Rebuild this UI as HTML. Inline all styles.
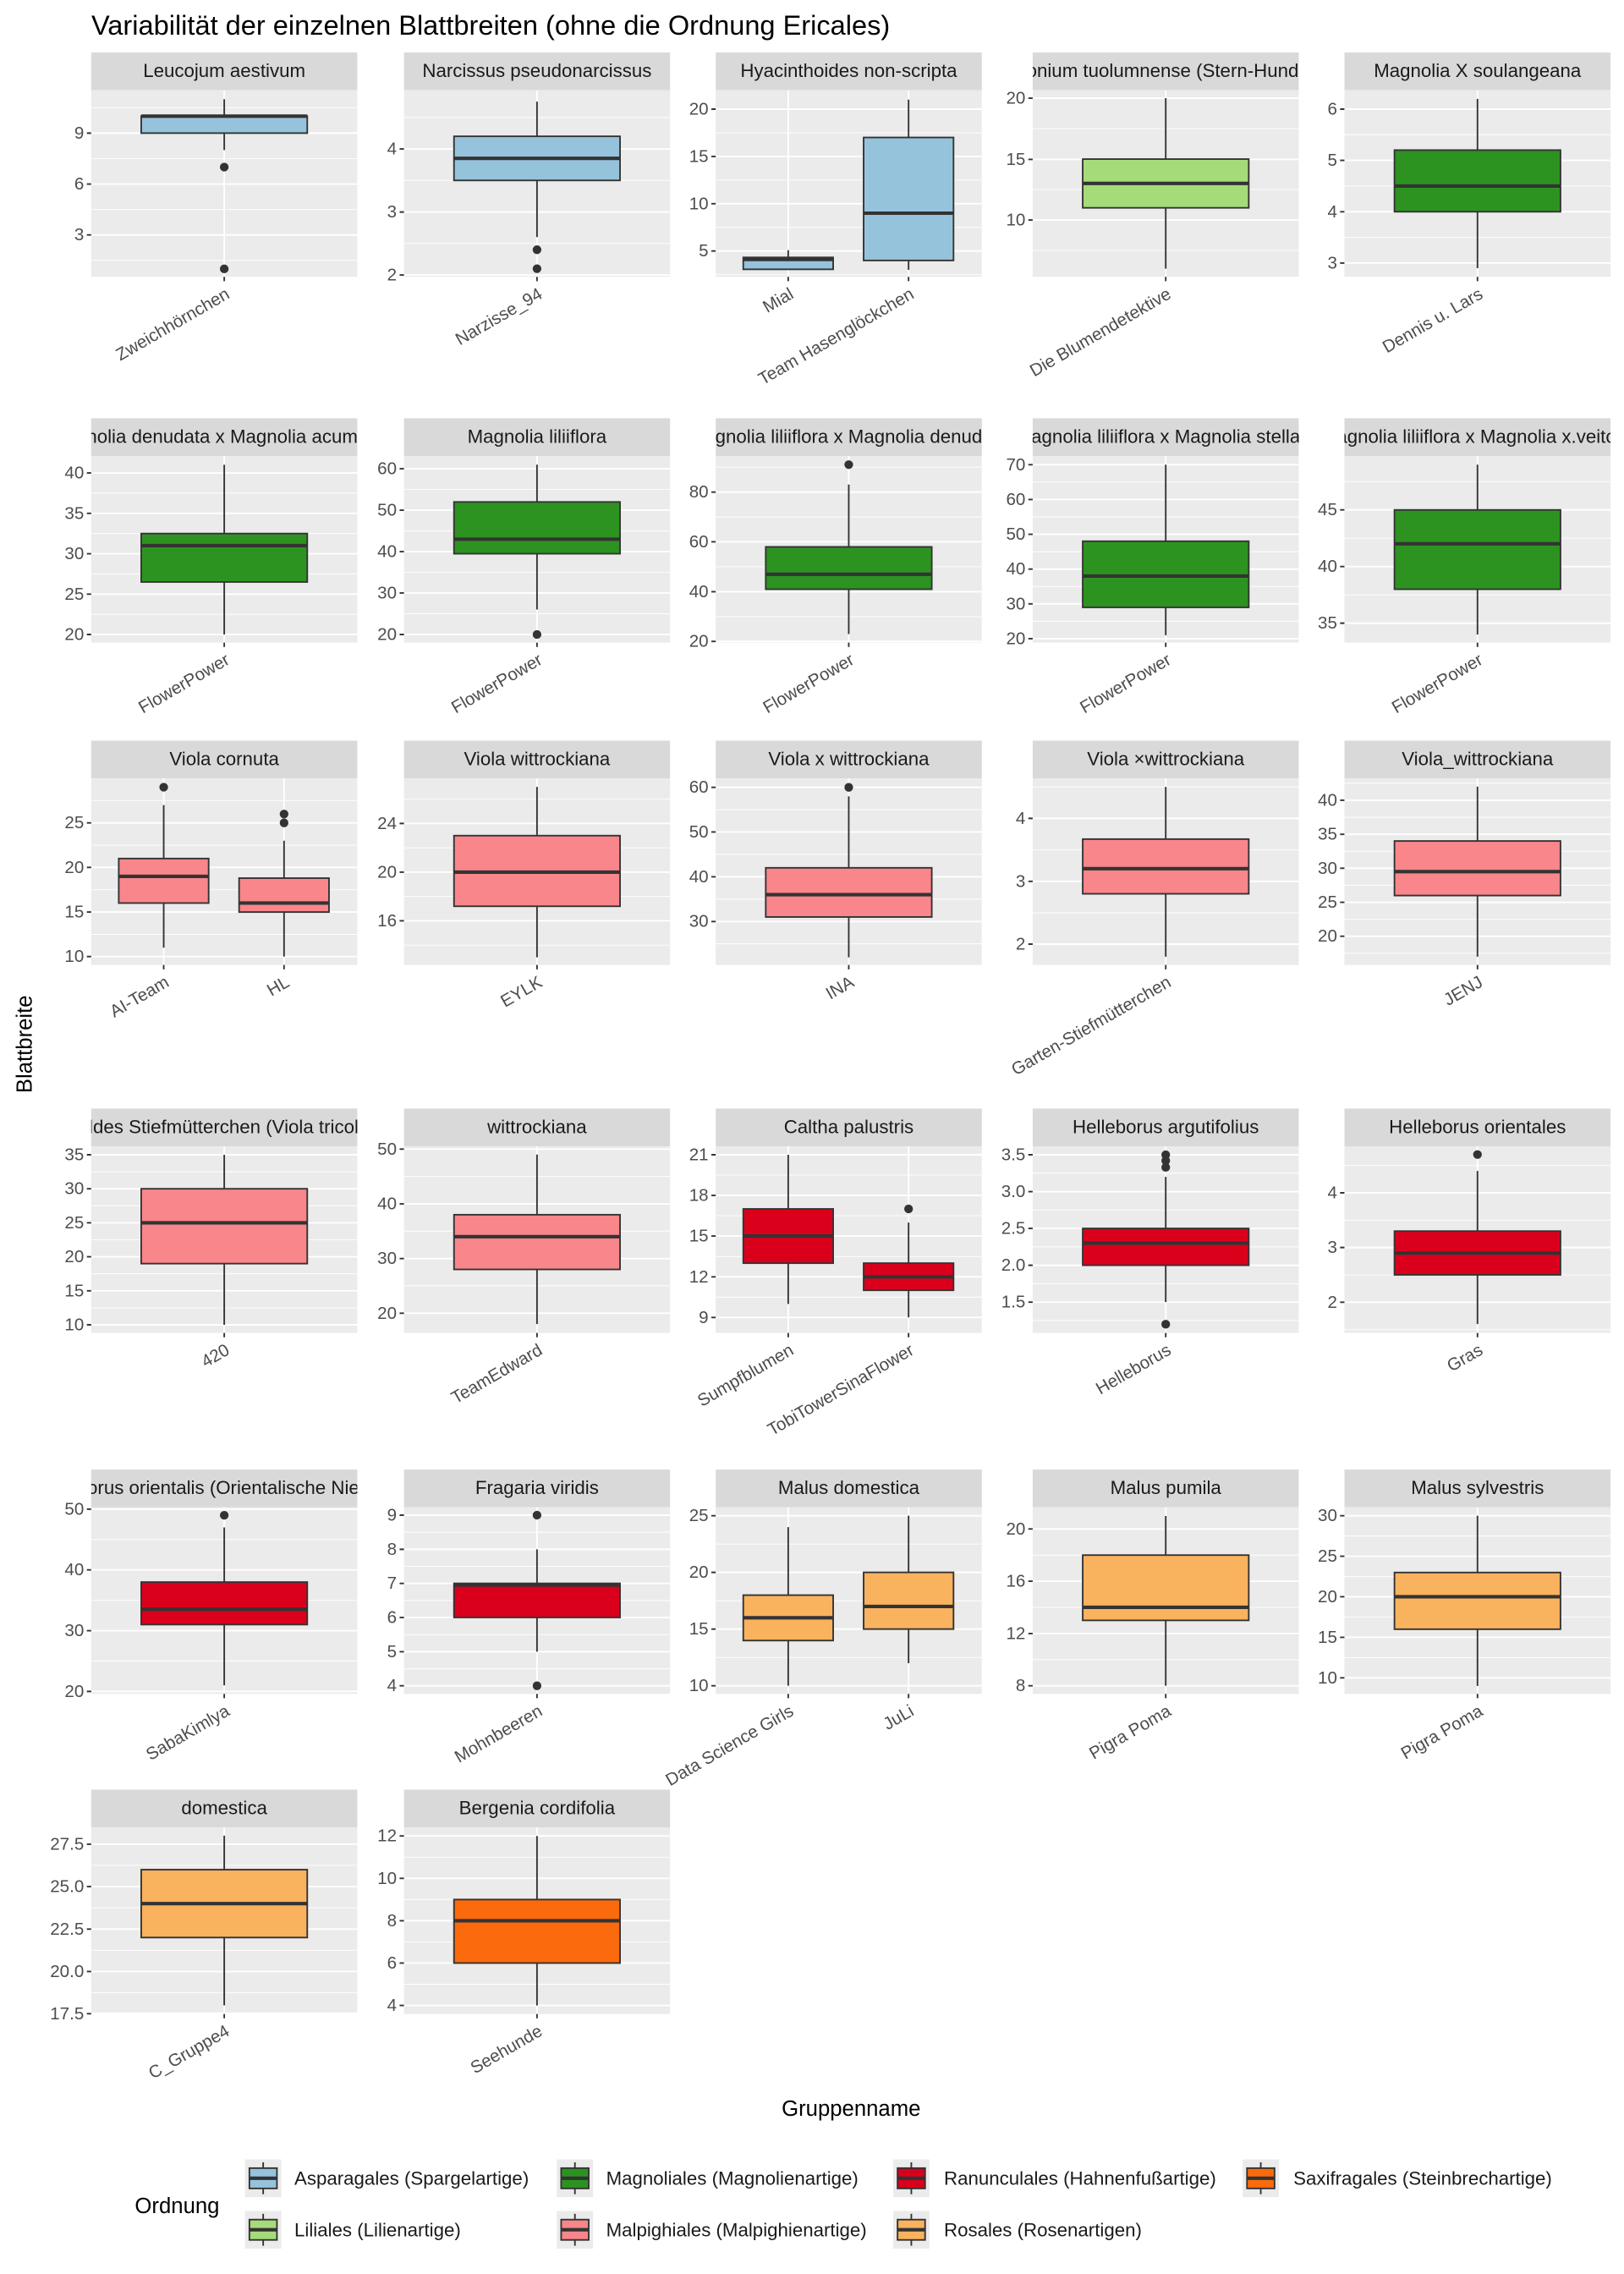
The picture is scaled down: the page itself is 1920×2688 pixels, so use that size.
<!DOCTYPE html>
<html><head><meta charset="utf-8">
<style>
html,body{margin:0;padding:0;background:#fff;}
svg{display:block;font-family:"Liberation Sans",Arial,sans-serif;}
.bg{fill:#EBEBEB}
.st{fill:#D9D9D9}
.mn{stroke:#fff;stroke-width:0.55;fill:none}
.mj{stroke:#fff;stroke-width:1.1;fill:none}
.tk{stroke:#333;stroke-width:1.1;fill:none}
.yl{font-size:12px;fill:#4D4D4D;text-anchor:end;dominant-baseline:central}
.sl{font-size:13px;fill:#1A1A1A;text-anchor:middle}
.xl{font-size:12px;fill:#4D4D4D;text-anchor:end}
.wh{stroke:#333;stroke-width:1.1}
.bx{stroke:#333;stroke-width:1.1}
.md{stroke:#333;stroke-width:2.4}
.ol{fill:#333}
.A{fill:#96C3DC}.L{fill:#A6DB7A}.M{fill:#2D9320}.P{fill:#F8868A}.R{fill:#DA001C}.O{fill:#F9B25E}.S{fill:#FB6A0C}
</style></head><body>
<svg width="1920" height="2688" viewBox="0 0 1120 1568" xmlns="http://www.w3.org/2000/svg">
<defs><clipPath id="sc"><rect x="0" y="-26" width="183.5" height="26"/></clipPath></defs>
<rect width="1120" height="1568" fill="#fff"/>
<text x="63" y="24" font-size="19" fill="#000">Variabilität der einzelnen Blattbreiten (ohne die Ordnung Ericales)</text>

<g transform="translate(62.9,62.2)">
<rect class="st" y="-26" width="183.5" height="26"/><text class="sl" x="91.75" y="-9" clip-path="url(#sc)">Leucojum aestivum</text>
<rect class="bg" width="183.5" height="128.7"/>
<path class="mn" d="M0 12.05H183.5M0 47.15H183.5M0 82.25H183.5M0 117.35H183.5"/>
<path class="mj" d="M0 29.6H183.5M0 64.7H183.5M0 99.8H183.5M91.75 0V128.7"/>
<path class="tk" d="M-3 29.6H0M-3 64.7H0M-3 99.8H0M91.75 128.7v3"/>
<text class="yl" x="-5" y="29.6">9</text><text class="yl" x="-5" y="64.7">6</text><text class="yl" x="-5" y="99.8">3</text>
<line class="wh" x1="91.75" x2="91.75" y1="6.2" y2="41.3"/>
<rect class="bx A" x="34.5" y="17.9" width="114.5" height="11.7"/>
<line class="md" x1="34.5" x2="149" y1="17.9" y2="17.9"/>
<circle class="ol" cx="91.75" cy="53" r="3"/><circle class="ol" cx="91.75" cy="123.2" r="3"/>
<text class="xl" transform="translate(91.75,135) rotate(-30)" dy="0.75em">Zweichhörnchen</text>
</g>

<g transform="translate(278.6,62.2)">
<rect class="st" y="-26" width="183.5" height="26"/><text class="sl" x="91.75" y="-9" clip-path="url(#sc)">Narcissus pseudonarcissus</text>
<rect class="bg" width="183.5" height="128.7"/>
<path class="mn" d="M0 18.8H183.5M0 62.2H183.5M0 105.7H183.5"/>
<path class="mj" d="M0 40.5H183.5M0 84H183.5M0 127.4H183.5M91.75 0V128.7"/>
<path class="tk" d="M-3 40.5H0M-3 84H0M-3 127.4H0M91.75 128.7v3"/>
<text class="yl" x="-5" y="40.5">4</text><text class="yl" x="-5" y="84">3</text><text class="yl" x="-5" y="127.4">2</text>
<line class="wh" x1="91.75" x2="91.75" y1="7.9" y2="101.3"/>
<rect class="bx A" x="34.5" y="31.8" width="114.5" height="30.4"/>
<line class="md" x1="34.5" x2="149" y1="47" y2="47"/>
<circle class="ol" cx="91.75" cy="110" r="3"/><circle class="ol" cx="91.75" cy="123.1" r="3"/>
<text class="xl" transform="translate(91.75,135) rotate(-30)" dy="0.75em">Narzisse_94</text>
</g>

<g transform="translate(493.6,62.2)">
<rect class="st" y="-26" width="183.5" height="26"/><text class="sl" x="91.75" y="-9" clip-path="url(#sc)">Hyacinthoides non-scripta</text>
<rect class="bg" width="183.5" height="128.7"/>
<path class="mn" d="M0 29.4H183.5M0 62H183.5M0 94.6H183.5M0 127.2H183.5"/>
<path class="mj" d="M0 13.05H183.5M0 45.7H183.5M0 78.3H183.5M0 110.9H183.5M50 0V128.7M133 0V128.7"/>
<path class="tk" d="M-3 13.05H0M-3 45.7H0M-3 78.3H0M-3 110.9H0M50 128.7v3M133 128.7v3"/>
<text class="yl" x="-5" y="13.05">20</text><text class="yl" x="-5" y="45.7">15</text><text class="yl" x="-5" y="78.3">10</text><text class="yl" x="-5" y="110.9">5</text>
<line class="wh" x1="50" x2="50" y1="110.3" y2="123.5"/>
<rect class="bx A" x="19" y="115.3" width="62" height="8.2"/>
<line class="md" x1="19" x2="81" y1="116.7" y2="116.7"/>
<line class="wh" x1="133" x2="133" y1="6.5" y2="123.9"/>
<rect class="bx A" x="102" y="32.6" width="62" height="84.8"/>
<line class="md" x1="102" x2="164" y1="84.8" y2="84.8"/>
<text class="xl" transform="translate(50,135) rotate(-30)" dy="0.75em">Mial</text>
<text class="xl" transform="translate(133,135) rotate(-30)" dy="0.75em">Team Hasenglöckchen</text>
</g>

<g transform="translate(712.2,62.2)">
<rect class="st" y="-26" width="183.5" height="26"/><text class="sl" x="91.75" y="-9" clip-path="url(#sc)">Erythronium tuolumnense (Stern-Hundszahn)</text>
<rect class="bg" width="183.5" height="128.7"/>
<path class="mn" d="M0 26.5H183.5M0 68.5H183.5M0 110.5H183.5"/>
<path class="mj" d="M0 5.47H183.5M0 47.7H183.5M0 89.5H183.5M91.75 0V128.7"/>
<path class="tk" d="M-3 5.47H0M-3 47.7H0M-3 89.5H0M91.75 128.7v3"/>
<text class="yl" x="-5" y="5.47">20</text><text class="yl" x="-5" y="47.7">15</text><text class="yl" x="-5" y="89.5">10</text>
<line class="wh" x1="91.75" x2="91.75" y1="5.47" y2="123.1"/>
<rect class="bx L" x="34.5" y="47.5" width="114.5" height="33.6"/>
<line class="md" x1="34.5" x2="149" y1="64.3" y2="64.3"/>
<text class="xl" transform="translate(91.75,135) rotate(-30)" dy="0.75em">Die Blumendetektive</text>
</g>

<g transform="translate(927.2,62.2)">
<rect class="st" y="-26" width="183.5" height="26"/><text class="sl" x="91.75" y="-9" clip-path="url(#sc)">Magnolia X soulangeana</text>
<rect class="bg" width="183.5" height="128.7"/>
<path class="mn" d="M0 30.7H183.5M0 66.1H183.5M0 101.5H183.5"/>
<path class="mj" d="M0 13.05H183.5M0 48.4H183.5M0 83.8H183.5M0 119.2H183.5M91.75 0V128.7"/>
<path class="tk" d="M-3 13.05H0M-3 48.4H0M-3 83.8H0M-3 119.2H0M91.75 128.7v3"/>
<text class="yl" x="-5" y="13.05">6</text><text class="yl" x="-5" y="48.4">5</text><text class="yl" x="-5" y="83.8">4</text><text class="yl" x="-5" y="119.2">3</text>
<line class="wh" x1="91.75" x2="91.75" y1="6" y2="122.7"/>
<rect class="bx M" x="34.5" y="41.3" width="114.5" height="42.5"/>
<line class="md" x1="34.5" x2="149" y1="66.1" y2="66.1"/>
<text class="xl" transform="translate(91.75,135) rotate(-30)" dy="0.75em">Dennis u. Lars</text>
</g>

<g transform="translate(62.9,314.4)">
<rect class="st" y="-26" width="183.5" height="26"/><text class="sl" x="91.75" y="-9" clip-path="url(#sc)">Magnolia denudata x Magnolia acuminata</text>
<rect class="bg" width="183.5" height="128.7"/>
<path class="mn" d="M0 25.6H183.5M0 53.5H183.5M0 81.3H183.5M0 109.2H183.5"/>
<path class="mj" d="M0 11.7H183.5M0 39.55H183.5M0 67.4H183.5M0 95.25H183.5M0 123.1H183.5M91.75 0V128.7"/>
<path class="tk" d="M-3 11.7H0M-3 39.55H0M-3 67.4H0M-3 95.25H0M-3 123.1H0M91.75 128.7v3"/>
<text class="yl" x="-5" y="11.7">40</text><text class="yl" x="-5" y="39.55">35</text><text class="yl" x="-5" y="67.4">30</text><text class="yl" x="-5" y="95.25">25</text><text class="yl" x="-5" y="123.1">20</text>
<line class="wh" x1="91.75" x2="91.75" y1="6.1" y2="123.1"/>
<rect class="bx M" x="34.5" y="53.5" width="114.5" height="33.4"/>
<line class="md" x1="34.5" x2="149" y1="61.8" y2="61.8"/>
<text class="xl" transform="translate(91.75,135) rotate(-30)" dy="0.75em">FlowerPower</text>
</g>

<g transform="translate(278.6,314.4)">
<rect class="st" y="-26" width="183.5" height="26"/><text class="sl" x="91.75" y="-9" clip-path="url(#sc)">Magnolia liliiflora</text>
<rect class="bg" width="183.5" height="128.7"/>
<path class="mn" d="M0 23.1H183.5M0 51.7H183.5M0 80.2H183.5M0 108.8H183.5"/>
<path class="mj" d="M0 8.8H183.5M0 37.4H183.5M0 66H183.5M0 94.5H183.5M0 123.1H183.5M91.75 0V128.7"/>
<path class="tk" d="M-3 8.8H0M-3 37.4H0M-3 66H0M-3 94.5H0M-3 123.1H0M91.75 128.7v3"/>
<text class="yl" x="-5" y="8.8">60</text><text class="yl" x="-5" y="37.4">50</text><text class="yl" x="-5" y="66">40</text><text class="yl" x="-5" y="94.5">30</text><text class="yl" x="-5" y="123.1">20</text>
<line class="wh" x1="91.75" x2="91.75" y1="6" y2="105.9"/>
<rect class="bx M" x="34.5" y="31.7" width="114.5" height="35.7"/>
<line class="md" x1="34.5" x2="149" y1="57.4" y2="57.4"/>
<circle class="ol" cx="91.75" cy="123.1" r="3"/>
<text class="xl" transform="translate(91.75,135) rotate(-30)" dy="0.75em">FlowerPower</text>
</g>

<g transform="translate(493.6,314.4)">
<rect class="st" y="-26" width="183.5" height="26"/><text class="sl" x="91.75" y="-9" clip-path="url(#sc)">Magnolia liliiflora x Magnolia denudata</text>
<rect class="bg" width="183.5" height="128.7"/>
<path class="mn" d="M0 7.7H183.5M0 42.1H183.5M0 76.4H183.5M0 110.8H183.5"/>
<path class="mj" d="M0 24.9H183.5M0 59.2H183.5M0 93.6H183.5M0 127.9H183.5M91.75 0V128.7"/>
<path class="tk" d="M-3 24.9H0M-3 59.2H0M-3 93.6H0M-3 127.9H0M91.75 128.7v3"/>
<text class="yl" x="-5" y="24.9">80</text><text class="yl" x="-5" y="59.2">60</text><text class="yl" x="-5" y="93.6">40</text><text class="yl" x="-5" y="127.9">20</text>
<line class="wh" x1="91.75" x2="91.75" y1="19.7" y2="122.8"/>
<rect class="bx M" x="34.5" y="62.7" width="114.5" height="29.2"/>
<line class="md" x1="34.5" x2="149" y1="81.6" y2="81.6"/>
<circle class="ol" cx="91.75" cy="6" r="3"/>
<text class="xl" transform="translate(91.75,135) rotate(-30)" dy="0.75em">FlowerPower</text>
</g>

<g transform="translate(712.2,314.4)">
<rect class="st" y="-26" width="183.5" height="26"/><text class="sl" x="91.75" y="-9" clip-path="url(#sc)">Magnolia liliiflora x Magnolia stellata</text>
<rect class="bg" width="183.5" height="128.7"/>
<path class="mn" d="M0 18H183.5M0 42H183.5M0 66H183.5M0 90H183.5M0 114H183.5"/>
<path class="mj" d="M0 6H183.5M0 30H183.5M0 54H183.5M0 78H183.5M0 102H183.5M0 126H183.5M91.75 0V128.7"/>
<path class="tk" d="M-3 6H0M-3 30H0M-3 54H0M-3 78H0M-3 102H0M-3 126H0M91.75 128.7v3"/>
<text class="yl" x="-5" y="6">70</text><text class="yl" x="-5" y="30">60</text><text class="yl" x="-5" y="54">50</text><text class="yl" x="-5" y="78">40</text><text class="yl" x="-5" y="102">30</text><text class="yl" x="-5" y="126">20</text>
<line class="wh" x1="91.75" x2="91.75" y1="6" y2="123.6"/>
<rect class="bx M" x="34.5" y="58.8" width="114.5" height="45.6"/>
<line class="md" x1="34.5" x2="149" y1="82.8" y2="82.8"/>
<text class="xl" transform="translate(91.75,135) rotate(-30)" dy="0.75em">FlowerPower</text>
</g>

<g transform="translate(927.2,314.4)">
<rect class="st" y="-26" width="183.5" height="26"/><text class="sl" x="91.75" y="-9" clip-path="url(#sc)">Magnolia liliiflora x Magnolia x.veitchii</text>
<rect class="bg" width="183.5" height="128.7"/>
<path class="mn" d="M0 17.7H183.5M0 56.7H183.5M0 95.8H183.5"/>
<path class="mj" d="M0 37.2H183.5M0 76.25H183.5M0 115.3H183.5M91.75 0V128.7"/>
<path class="tk" d="M-3 37.2H0M-3 76.25H0M-3 115.3H0M91.75 128.7v3"/>
<text class="yl" x="-5" y="37.2">45</text><text class="yl" x="-5" y="76.25">40</text><text class="yl" x="-5" y="115.3">35</text>
<line class="wh" x1="91.75" x2="91.75" y1="6" y2="123.1"/>
<rect class="bx M" x="34.5" y="37.2" width="114.5" height="54.7"/>
<line class="md" x1="34.5" x2="149" y1="60.6" y2="60.6"/>
<text class="xl" transform="translate(91.75,135) rotate(-30)" dy="0.75em">FlowerPower</text>
</g>

<g transform="translate(62.9,536.7)">
<rect class="st" y="-26" width="183.5" height="26"/><text class="sl" x="91.75" y="-9" clip-path="url(#sc)">Viola cornuta</text>
<rect class="bg" width="183.5" height="128.7"/>
<path class="mn" d="M0 15.3H183.5M0 46.1H183.5M0 76.8H183.5M0 107.6H183.5"/>
<path class="mj" d="M0 30.7H183.5M0 61.4H183.5M0 92.2H183.5M0 122.9H183.5M50 0V128.7M133 0V128.7"/>
<path class="tk" d="M-3 30.7H0M-3 61.4H0M-3 92.2H0M-3 122.9H0M50 128.7v3M133 128.7v3"/>
<text class="yl" x="-5" y="30.7">25</text><text class="yl" x="-5" y="61.4">20</text><text class="yl" x="-5" y="92.2">15</text><text class="yl" x="-5" y="122.9">10</text>
<line class="wh" x1="50" x2="50" y1="18.4" y2="116.8"/>
<rect class="bx P" x="19" y="55.3" width="62" height="30.7"/>
<line class="md" x1="19" x2="81" y1="67.6" y2="67.6"/>
<circle class="ol" cx="50" cy="6.1" r="3"/>
<line class="wh" x1="133" x2="133" y1="43" y2="122.9"/>
<rect class="bx P" x="102" y="68.8" width="62" height="23.4"/>
<line class="md" x1="102" x2="164" y1="86" y2="86"/>
<circle class="ol" cx="133" cy="30.7" r="3"/><circle class="ol" cx="133" cy="24.6" r="3"/>
<text class="xl" transform="translate(50,135) rotate(-30)" dy="0.75em">AI-Team</text>
<text class="xl" transform="translate(133,135) rotate(-30)" dy="0.75em">HL</text>
</g>

<g transform="translate(278.6,536.7)">
<rect class="st" y="-26" width="183.5" height="26"/><text class="sl" x="91.75" y="-9" clip-path="url(#sc)">Viola wittrockiana</text>
<rect class="bg" width="183.5" height="128.7"/>
<path class="mn" d="M0 14.3H183.5M0 47.9H183.5M0 81.4H183.5M0 115H183.5"/>
<path class="mj" d="M0 31.1H183.5M0 64.7H183.5M0 98.2H183.5M91.75 0V128.7"/>
<path class="tk" d="M-3 31.1H0M-3 64.7H0M-3 98.2H0M91.75 128.7v3"/>
<text class="yl" x="-5" y="31.1">24</text><text class="yl" x="-5" y="64.7">20</text><text class="yl" x="-5" y="98.2">16</text>
<line class="wh" x1="91.75" x2="91.75" y1="5.9" y2="123.4"/>
<rect class="bx P" x="34.5" y="39.5" width="114.5" height="48.7"/>
<line class="md" x1="34.5" x2="149" y1="64.7" y2="64.7"/>
<text class="xl" transform="translate(91.75,135) rotate(-30)" dy="0.75em">EYLK</text>
</g>

<g transform="translate(493.6,536.7)">
<rect class="st" y="-26" width="183.5" height="26"/><text class="sl" x="91.75" y="-9" clip-path="url(#sc)">Viola x wittrockiana</text>
<rect class="bg" width="183.5" height="128.7"/>
<path class="mn" d="M0 21.6H183.5M0 52.4H183.5M0 83.3H183.5M0 114.1H183.5"/>
<path class="mj" d="M0 6.2H183.5M0 37H183.5M0 67.9H183.5M0 98.7H183.5M91.75 0V128.7"/>
<path class="tk" d="M-3 6.2H0M-3 37H0M-3 67.9H0M-3 98.7H0M91.75 128.7v3"/>
<text class="yl" x="-5" y="6.2">60</text><text class="yl" x="-5" y="37">50</text><text class="yl" x="-5" y="67.9">40</text><text class="yl" x="-5" y="98.7">30</text>
<line class="wh" x1="91.75" x2="91.75" y1="12.4" y2="123.4"/>
<rect class="bx P" x="34.5" y="61.7" width="114.5" height="33.9"/>
<line class="md" x1="34.5" x2="149" y1="80.2" y2="80.2"/>
<circle class="ol" cx="91.75" cy="6.2" r="3"/>
<text class="xl" transform="translate(91.75,135) rotate(-30)" dy="0.75em">INA</text>
</g>

<g transform="translate(712.2,536.7)">
<rect class="st" y="-26" width="183.5" height="26"/><text class="sl" x="91.75" y="-9" clip-path="url(#sc)">Viola ×wittrockiana</text>
<rect class="bg" width="183.5" height="128.7"/>
<path class="mn" d="M0 5.9H183.5M0 49.3H183.5M0 92.7H183.5"/>
<path class="mj" d="M0 27.6H183.5M0 71H183.5M0 114.3H183.5M91.75 0V128.7"/>
<path class="tk" d="M-3 27.6H0M-3 71H0M-3 114.3H0M91.75 128.7v3"/>
<text class="yl" x="-5" y="27.6">4</text><text class="yl" x="-5" y="71">3</text><text class="yl" x="-5" y="114.3">2</text>
<line class="wh" x1="91.75" x2="91.75" y1="5.9" y2="123"/>
<rect class="bx P" x="34.5" y="41.9" width="114.5" height="37.7"/>
<line class="md" x1="34.5" x2="149" y1="62.3" y2="62.3"/>
<text class="xl" transform="translate(91.75,135) rotate(-30)" dy="0.75em">Garten-Stiefmütterchen</text>
</g>

<g transform="translate(927.2,536.7)">
<rect class="st" y="-26" width="183.5" height="26"/><text class="sl" x="91.75" y="-9" clip-path="url(#sc)">Viola_wittrockiana</text>
<rect class="bg" width="183.5" height="128.7"/>
<path class="mn" d="M0 3.4H183.5M0 26.8H183.5M0 50.3H183.5M0 73.7H183.5M0 97.2H183.5M0 120.6H183.5"/>
<path class="mj" d="M0 15.1H183.5M0 38.55H183.5M0 62H183.5M0 85.45H183.5M0 108.9H183.5M91.75 0V128.7"/>
<path class="tk" d="M-3 15.1H0M-3 38.55H0M-3 62H0M-3 85.45H0M-3 108.9H0M91.75 128.7v3"/>
<text class="yl" x="-5" y="15.1">40</text><text class="yl" x="-5" y="38.55">35</text><text class="yl" x="-5" y="62">30</text><text class="yl" x="-5" y="85.45">25</text><text class="yl" x="-5" y="108.9">20</text>
<line class="wh" x1="91.75" x2="91.75" y1="5.7" y2="123"/>
<rect class="bx P" x="34.5" y="43.2" width="114.5" height="37.6"/>
<line class="md" x1="34.5" x2="149" y1="64.3" y2="64.3"/>
<text class="xl" transform="translate(91.75,135) rotate(-30)" dy="0.75em">JENJ</text>
</g>

<g transform="translate(62.9,790.4)">
<rect class="st" y="-26" width="183.5" height="26"/><text class="sl" x="91.75" y="-9" clip-path="url(#sc)">Wildes Stiefmütterchen (Viola tricolor)</text>
<rect class="bg" width="183.5" height="128.7"/>
<path class="mn" d="M0 17.6H183.5M0 41H183.5M0 64.5H183.5M0 87.9H183.5M0 111.4H183.5"/>
<path class="mj" d="M0 5.85H183.5M0 29.3H183.5M0 52.75H183.5M0 76.2H183.5M0 99.65H183.5M0 123.1H183.5M91.75 0V128.7"/>
<path class="tk" d="M-3 5.85H0M-3 29.3H0M-3 52.75H0M-3 76.2H0M-3 99.65H0M-3 123.1H0M91.75 128.7v3"/>
<text class="yl" x="-5" y="5.85">35</text><text class="yl" x="-5" y="29.3">30</text><text class="yl" x="-5" y="52.75">25</text><text class="yl" x="-5" y="76.2">20</text><text class="yl" x="-5" y="99.65">15</text><text class="yl" x="-5" y="123.1">10</text>
<line class="wh" x1="91.75" x2="91.75" y1="5.85" y2="123.1"/>
<rect class="bx P" x="34.5" y="29.3" width="114.5" height="51.6"/>
<line class="md" x1="34.5" x2="149" y1="52.75" y2="52.75"/>
<text class="xl" transform="translate(91.75,135) rotate(-30)" dy="0.75em">420</text>
</g>

<g transform="translate(278.6,790.4)">
<rect class="st" y="-26" width="183.5" height="26"/><text class="sl" x="91.75" y="-9" clip-path="url(#sc)">wittrockiana</text>
<rect class="bg" width="183.5" height="128.7"/>
<path class="mn" d="M0 20.8H183.5M0 58.5H183.5M0 96.2H183.5"/>
<path class="mj" d="M0 1.96H183.5M0 39.7H183.5M0 77.4H183.5M0 115.1H183.5M91.75 0V128.7"/>
<path class="tk" d="M-3 1.96H0M-3 39.7H0M-3 77.4H0M-3 115.1H0M91.75 128.7v3"/>
<text class="yl" x="-5" y="1.96">50</text><text class="yl" x="-5" y="39.7">40</text><text class="yl" x="-5" y="77.4">30</text><text class="yl" x="-5" y="115.1">20</text>
<line class="wh" x1="91.75" x2="91.75" y1="5.7" y2="122.6"/>
<rect class="bx P" x="34.5" y="47.2" width="114.5" height="37.7"/>
<line class="md" x1="34.5" x2="149" y1="62.3" y2="62.3"/>
<text class="xl" transform="translate(91.75,135) rotate(-30)" dy="0.75em">TeamEdward</text>
</g>

<g transform="translate(493.6,790.4)">
<rect class="st" y="-26" width="183.5" height="26"/><text class="sl" x="91.75" y="-9" clip-path="url(#sc)">Caltha palustris</text>
<rect class="bg" width="183.5" height="128.7"/>
<path class="mn" d="M0 19.9H183.5M0 47.9H183.5M0 76H183.5M0 104H183.5"/>
<path class="mj" d="M0 5.85H183.5M0 33.9H183.5M0 61.9H183.5M0 90H183.5M0 118H183.5M50 0V128.7M133 0V128.7"/>
<path class="tk" d="M-3 5.85H0M-3 33.9H0M-3 61.9H0M-3 90H0M-3 118H0M50 128.7v3M133 128.7v3"/>
<text class="yl" x="-5" y="5.85">21</text><text class="yl" x="-5" y="33.9">18</text><text class="yl" x="-5" y="61.9">15</text><text class="yl" x="-5" y="90">12</text><text class="yl" x="-5" y="118">9</text>
<line class="wh" x1="50" x2="50" y1="5.85" y2="108.7"/>
<rect class="bx R" x="19" y="43.2" width="62" height="37.4"/>
<line class="md" x1="19" x2="81" y1="61.9" y2="61.9"/>
<line class="wh" x1="133" x2="133" y1="52.6" y2="118"/>
<rect class="bx R" x="102" y="80.6" width="62" height="18.7"/>
<line class="md" x1="102" x2="164" y1="90" y2="90"/>
<circle class="ol" cx="133" cy="43.2" r="3"/>
<text class="xl" transform="translate(50,135) rotate(-30)" dy="0.75em">Sumpfblumen</text>
<text class="xl" transform="translate(133,135) rotate(-30)" dy="0.75em">TobiTowerSinaFlower</text>
</g>

<g transform="translate(712.2,790.4)">
<rect class="st" y="-26" width="183.5" height="26"/><text class="sl" x="91.75" y="-9" clip-path="url(#sc)">Helleborus argutifolius</text>
<rect class="bg" width="183.5" height="128.7"/>
<path class="mn" d="M0 18.55H183.5M0 43.95H183.5M0 69.35H183.5M0 94.75H183.5M0 120.15H183.5"/>
<path class="mj" d="M0 5.85H183.5M0 31.25H183.5M0 56.65H183.5M0 82.05H183.5M0 107.45H183.5M91.75 0V128.7"/>
<path class="tk" d="M-3 5.85H0M-3 31.25H0M-3 56.65H0M-3 82.05H0M-3 107.45H0M91.75 128.7v3"/>
<text class="yl" x="-5" y="5.85">3.5</text><text class="yl" x="-5" y="31.25">3.0</text><text class="yl" x="-5" y="56.65">2.5</text><text class="yl" x="-5" y="82.05">2.0</text><text class="yl" x="-5" y="107.45">1.5</text>
<line class="wh" x1="91.75" x2="91.75" y1="21.1" y2="107.45"/>
<rect class="bx R" x="34.5" y="56.65" width="114.5" height="25.4"/>
<line class="md" x1="34.5" x2="149" y1="66.8" y2="66.8"/>
<circle class="ol" cx="91.75" cy="5.85" r="3"/><circle class="ol" cx="91.75" cy="9.9" r="3"/><circle class="ol" cx="91.75" cy="14.5" r="3"/><circle class="ol" cx="91.75" cy="122.7" r="3"/>
<text class="xl" transform="translate(91.75,135) rotate(-30)" dy="0.75em">Helleborus</text>
</g>

<g transform="translate(927.2,790.4)">
<rect class="st" y="-26" width="183.5" height="26"/><text class="sl" x="91.75" y="-9" clip-path="url(#sc)">Helleborus orientales</text>
<rect class="bg" width="183.5" height="128.7"/>
<path class="mn" d="M0 13.25H183.5M0 50.95H183.5M0 88.65H183.5M0 126.35H183.5"/>
<path class="mj" d="M0 32.1H183.5M0 69.8H183.5M0 107.5H183.5M91.75 0V128.7"/>
<path class="tk" d="M-3 32.1H0M-3 69.8H0M-3 107.5H0M91.75 128.7v3"/>
<text class="yl" x="-5" y="32.1">4</text><text class="yl" x="-5" y="69.8">3</text><text class="yl" x="-5" y="107.5">2</text>
<line class="wh" x1="91.75" x2="91.75" y1="17" y2="122.6"/>
<rect class="bx R" x="34.5" y="58.5" width="114.5" height="30.15"/>
<line class="md" x1="34.5" x2="149" y1="73.6" y2="73.6"/>
<circle class="ol" cx="91.75" cy="5.7" r="3"/>
<text class="xl" transform="translate(91.75,135) rotate(-30)" dy="0.75em">Gras</text>
</g>

<g transform="translate(62.9,1039.3)">
<rect class="st" y="-26" width="183.5" height="26"/><text class="sl" x="91.75" y="-9" clip-path="url(#sc)">Helleborus orientalis (Orientalische Nieswurz)</text>
<rect class="bg" width="183.5" height="128.7"/>
<path class="mn" d="M0 22.3H183.5M0 64.2H183.5M0 106H183.5"/>
<path class="mj" d="M0 1.36H183.5M0 43.2H183.5M0 85.1H183.5M0 127H183.5M91.75 0V128.7"/>
<path class="tk" d="M-3 1.36H0M-3 43.2H0M-3 85.1H0M-3 127H0M91.75 128.7v3"/>
<text class="yl" x="-5" y="1.36">50</text><text class="yl" x="-5" y="43.2">40</text><text class="yl" x="-5" y="85.1">30</text><text class="yl" x="-5" y="127">20</text>
<line class="wh" x1="91.75" x2="91.75" y1="13.9" y2="122.8"/>
<rect class="bx R" x="34.5" y="51.6" width="114.5" height="29.3"/>
<line class="md" x1="34.5" x2="149" y1="70.4" y2="70.4"/>
<circle class="ol" cx="91.75" cy="5.5" r="3"/>
<text class="xl" transform="translate(91.75,135) rotate(-30)" dy="0.75em">SabaKimlya</text>
</g>

<g transform="translate(278.6,1039.3)">
<rect class="st" y="-26" width="183.5" height="26"/><text class="sl" x="91.75" y="-9" clip-path="url(#sc)">Fragaria viridis</text>
<rect class="bg" width="183.5" height="128.7"/>
<path class="mn" d="M0 17.2H183.5M0 40.7H183.5M0 64.3H183.5M0 87.8H183.5M0 111.4H183.5"/>
<path class="mj" d="M0 5.45H183.5M0 29H183.5M0 52.5H183.5M0 76H183.5M0 99.6H183.5M0 123.1H183.5M91.75 0V128.7"/>
<path class="tk" d="M-3 5.45H0M-3 29H0M-3 52.5H0M-3 76H0M-3 99.6H0M-3 123.1H0M91.75 128.7v3"/>
<text class="yl" x="-5" y="5.45">9</text><text class="yl" x="-5" y="29">8</text><text class="yl" x="-5" y="52.5">7</text><text class="yl" x="-5" y="76">6</text><text class="yl" x="-5" y="99.6">5</text><text class="yl" x="-5" y="123.1">4</text>
<line class="wh" x1="91.75" x2="91.75" y1="29" y2="99.6"/>
<rect class="bx R" x="34.5" y="52.5" width="114.5" height="23.5"/>
<line class="md" x1="34.5" x2="149" y1="53.6" y2="53.6"/>
<circle class="ol" cx="91.75" cy="5.45" r="3"/><circle class="ol" cx="91.75" cy="123.1" r="3"/>
<text class="xl" transform="translate(91.75,135) rotate(-30)" dy="0.75em">Mohnbeeren</text>
</g>

<g transform="translate(493.6,1039.3)">
<rect class="st" y="-26" width="183.5" height="26"/><text class="sl" x="91.75" y="-9" clip-path="url(#sc)">Malus domestica</text>
<rect class="bg" width="183.5" height="128.7"/>
<path class="mn" d="M0 25.4H183.5M0 64.5H183.5M0 103.6H183.5"/>
<path class="mj" d="M0 5.84H183.5M0 44.9H183.5M0 84H183.5M0 123.1H183.5M50 0V128.7M133 0V128.7"/>
<path class="tk" d="M-3 5.84H0M-3 44.9H0M-3 84H0M-3 123.1H0M50 128.7v3M133 128.7v3"/>
<text class="yl" x="-5" y="5.84">25</text><text class="yl" x="-5" y="44.9">20</text><text class="yl" x="-5" y="84">15</text><text class="yl" x="-5" y="123.1">10</text>
<line class="wh" x1="50" x2="50" y1="13.7" y2="123.1"/>
<rect class="bx O" x="19" y="60.6" width="62" height="31.3"/>
<line class="md" x1="19" x2="81" y1="76.2" y2="76.2"/>
<line class="wh" x1="133" x2="133" y1="5.84" y2="107.5"/>
<rect class="bx O" x="102" y="44.9" width="62" height="39.1"/>
<line class="md" x1="102" x2="164" y1="68.4" y2="68.4"/>
<text class="xl" transform="translate(50,135) rotate(-30)" dy="0.75em">Data Science Girls</text>
<text class="xl" transform="translate(133,135) rotate(-30)" dy="0.75em">JuLi</text>
</g>

<g transform="translate(712.2,1039.3)">
<rect class="st" y="-26" width="183.5" height="26"/><text class="sl" x="91.75" y="-9" clip-path="url(#sc)">Malus pumila</text>
<rect class="bg" width="183.5" height="128.7"/>
<path class="mn" d="M0 33H183.5M0 69H183.5M0 105.1H183.5"/>
<path class="mj" d="M0 14.97H183.5M0 51H183.5M0 87.05H183.5M0 123.1H183.5M91.75 0V128.7"/>
<path class="tk" d="M-3 14.97H0M-3 51H0M-3 87.05H0M-3 123.1H0M91.75 128.7v3"/>
<text class="yl" x="-5" y="14.97">20</text><text class="yl" x="-5" y="51">16</text><text class="yl" x="-5" y="87.05">12</text><text class="yl" x="-5" y="123.1">8</text>
<line class="wh" x1="91.75" x2="91.75" y1="6" y2="123.1"/>
<rect class="bx O" x="34.5" y="33" width="114.5" height="45"/>
<line class="md" x1="34.5" x2="149" y1="69" y2="69"/>
<text class="xl" transform="translate(91.75,135) rotate(-30)" dy="0.75em">Pigra Poma</text>
</g>

<g transform="translate(927.2,1039.3)">
<rect class="st" y="-26" width="183.5" height="26"/><text class="sl" x="91.75" y="-9" clip-path="url(#sc)">Malus sylvestris</text>
<rect class="bg" width="183.5" height="128.7"/>
<path class="mn" d="M0 19.8H183.5M0 47.8H183.5M0 75.7H183.5M0 103.7H183.5"/>
<path class="mj" d="M0 5.84H183.5M0 33.8H183.5M0 61.7H183.5M0 89.7H183.5M0 117.6H183.5M91.75 0V128.7"/>
<path class="tk" d="M-3 5.84H0M-3 33.8H0M-3 61.7H0M-3 89.7H0M-3 117.6H0M91.75 128.7v3"/>
<text class="yl" x="-5" y="5.84">30</text><text class="yl" x="-5" y="33.8">25</text><text class="yl" x="-5" y="61.7">20</text><text class="yl" x="-5" y="89.7">15</text><text class="yl" x="-5" y="117.6">10</text>
<line class="wh" x1="91.75" x2="91.75" y1="5.84" y2="123.2"/>
<rect class="bx O" x="34.5" y="45" width="114.5" height="39.1"/>
<line class="md" x1="34.5" x2="149" y1="61.7" y2="61.7"/>
<text class="xl" transform="translate(91.75,135) rotate(-30)" dy="0.75em">Pigra Poma</text>
</g>

<g transform="translate(62.9,1260)">
<rect class="st" y="-26" width="183.5" height="26"/><text class="sl" x="91.75" y="-9" clip-path="url(#sc)">domestica</text>
<rect class="bg" width="183.5" height="128.7"/>
<path class="mn" d="M0 26.2H183.5M0 55.5H183.5M0 84.8H183.5M0 114H183.5"/>
<path class="mj" d="M0 11.6H183.5M0 40.9H183.5M0 70.15H183.5M0 99.4H183.5M0 128.2H183.5M91.75 0V128.7"/>
<path class="tk" d="M-3 11.6H0M-3 40.9H0M-3 70.15H0M-3 99.4H0M-3 128.5H0M91.75 128.7v3"/>
<text class="yl" x="-5" y="11.6">27.5</text><text class="yl" x="-5" y="40.9">25.0</text><text class="yl" x="-5" y="70.15">22.5</text><text class="yl" x="-5" y="99.4">20.0</text><text class="yl" x="-5" y="128.5">17.5</text>
<line class="wh" x1="91.75" x2="91.75" y1="5.75" y2="122.8"/>
<rect class="bx O" x="34.5" y="29.2" width="114.5" height="46.8"/>
<line class="md" x1="34.5" x2="149" y1="52.6" y2="52.6"/>
<text class="xl" transform="translate(91.75,135) rotate(-30)" dy="0.75em">C_Gruppe4</text>
</g>

<g transform="translate(278.6,1260)">
<rect class="st" y="-26" width="183.5" height="26"/><text class="sl" x="91.75" y="-9" clip-path="url(#sc)">Bergenia cordifolia</text>
<rect class="bg" width="183.5" height="128.7"/>
<path class="mn" d="M0 20.6H183.5M0 49.8H183.5M0 79H183.5M0 108.2H183.5"/>
<path class="mj" d="M0 5.95H183.5M0 35.2H183.5M0 64.4H183.5M0 93.6H183.5M0 122.85H183.5M91.75 0V128.7"/>
<path class="tk" d="M-3 5.95H0M-3 35.2H0M-3 64.4H0M-3 93.6H0M-3 122.85H0M91.75 128.7v3"/>
<text class="yl" x="-5" y="5.95">12</text><text class="yl" x="-5" y="35.2">10</text><text class="yl" x="-5" y="64.4">8</text><text class="yl" x="-5" y="93.6">6</text><text class="yl" x="-5" y="122.85">4</text>
<line class="wh" x1="91.75" x2="91.75" y1="5.95" y2="122.85"/>
<rect class="bx S" x="34.5" y="49.8" width="114.5" height="43.8"/>
<line class="md" x1="34.5" x2="149" y1="64.4" y2="64.4"/>
<text class="xl" transform="translate(91.75,135) rotate(-30)" dy="0.75em">Seehunde</text>
</g>

<text x="587" y="1459" font-size="15" text-anchor="middle" fill="#000">Gruppenname</text>
<text transform="translate(22,720) rotate(-90)" font-size="15" text-anchor="middle" fill="#000">Blattbreite</text>

<text x="93" y="1526" font-size="15" fill="#000">Ordnung</text>
<g font-size="13" fill="#1A1A1A">
<g transform="translate(169,1489)"><rect width="25" height="26" fill="#EBEBEB"/><line x1="12.5" x2="12.5" y1="2" y2="24" class="wh"/><rect class="bx A" x="3" y="6" width="19" height="14"/><line x1="3" x2="22" y1="13" y2="13" class="md"/></g>
<text x="203" y="1506.5">Asparagales (Spargelartige)</text>
<g transform="translate(384,1489)"><rect width="25" height="26" fill="#EBEBEB"/><line x1="12.5" x2="12.5" y1="2" y2="24" class="wh"/><rect class="bx M" x="3" y="6" width="19" height="14"/><line x1="3" x2="22" y1="13" y2="13" class="md"/></g>
<text x="418" y="1506.5">Magnoliales (Magnolienartige)</text>
<g transform="translate(616,1489)"><rect width="25" height="26" fill="#EBEBEB"/><line x1="12.5" x2="12.5" y1="2" y2="24" class="wh"/><rect class="bx R" x="3" y="6" width="19" height="14"/><line x1="3" x2="22" y1="13" y2="13" class="md"/></g>
<text x="651" y="1506.5">Ranunculales (Hahnenfußartige)</text>
<g transform="translate(857,1489)"><rect width="25" height="26" fill="#EBEBEB"/><line x1="12.5" x2="12.5" y1="2" y2="24" class="wh"/><rect class="bx S" x="3" y="6" width="19" height="14"/><line x1="3" x2="22" y1="13" y2="13" class="md"/></g>
<text x="892" y="1506.5">Saxifragales (Steinbrechartige)</text>
<g transform="translate(169,1524.5)"><rect width="25" height="26" fill="#EBEBEB"/><line x1="12.5" x2="12.5" y1="2" y2="24" class="wh"/><rect class="bx L" x="3" y="6" width="19" height="14"/><line x1="3" x2="22" y1="13" y2="13" class="md"/></g>
<text x="203" y="1542">Liliales (Lilienartige)</text>
<g transform="translate(384,1524.5)"><rect width="25" height="26" fill="#EBEBEB"/><line x1="12.5" x2="12.5" y1="2" y2="24" class="wh"/><rect class="bx P" x="3" y="6" width="19" height="14"/><line x1="3" x2="22" y1="13" y2="13" class="md"/></g>
<text x="418" y="1542">Malpighiales (Malpighienartige)</text>
<g transform="translate(616,1524.5)"><rect width="25" height="26" fill="#EBEBEB"/><line x1="12.5" x2="12.5" y1="2" y2="24" class="wh"/><rect class="bx O" x="3" y="6" width="19" height="14"/><line x1="3" x2="22" y1="13" y2="13" class="md"/></g>
<text x="651" y="1542">Rosales (Rosenartigen)</text>
</g>
</svg>
</body></html>
